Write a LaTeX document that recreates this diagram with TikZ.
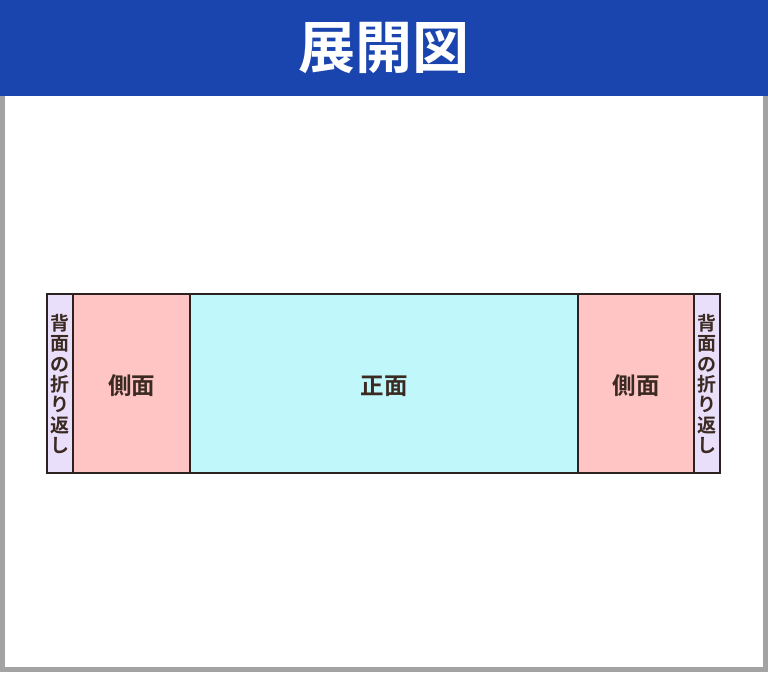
\documentclass[tikz,border=0pt]{standalone}
\usepackage{fontspec}
\newfontfamily\jpbold[BoldFont={Noto Sans CJK JP Bold}]{Noto Sans CJK JP Bold}
\definecolor{header}{HTML}{1A45AF}
\definecolor{frame}{HTML}{A3A3A3}
\definecolor{edge}{HTML}{2B2220}
\definecolor{ink}{HTML}{3A2A22}
\definecolor{fold}{HTML}{EADFFA}
\definecolor{side}{HTML}{FFC4C4}
\definecolor{front}{HTML}{C0F7FB}
\tikzset{
  panel/.style={draw=edge,line width=1.6pt},
  lbl/.style={text=ink,font=\jpbold\fontsize{23.5}{26}\selectfont},
  vlbl/.style={text=ink,font=\jpbold\fontsize{19}{20.3}\selectfont,align=center,inner sep=0pt}
}
\begin{document}
\begin{tikzpicture}[x=1pt,y=-1pt]
\useasboundingbox (0,0) rectangle (768,672);

\fill[frame] (0,0) rectangle (768,672);
\fill[white] (5,96) rectangle (763,667);
\fill[header] (0,0) rectangle (768,96);
\node[text=white,font=\jpbold\fontsize{57}{62}\selectfont] (title) at (384,48) {展開図};

\draw[panel,fill=fold]  (47,294) rectangle (73,473);
\draw[panel,fill=side]  (73,294) rectangle (190,473);
\draw[panel,fill=front] (190,294) rectangle (578,473);
\draw[panel,fill=side]  (578,294) rectangle (694,473);
\draw[panel,fill=fold]  (694,294) rectangle (720,473);

\node[vlbl] (foldL) at (60,384) {背\\面\\の\\折\\り\\返\\し};
\node[lbl] (sideL) at (131.5,386) {側面};
\node[lbl] (frontC) at (384,386) {正面};
\node[lbl] (sideR) at (636,386) {側面};
\node[vlbl] (foldR) at (707,384) {背\\面\\の\\折\\り\\返\\し};
\end{tikzpicture}
\end{document}
